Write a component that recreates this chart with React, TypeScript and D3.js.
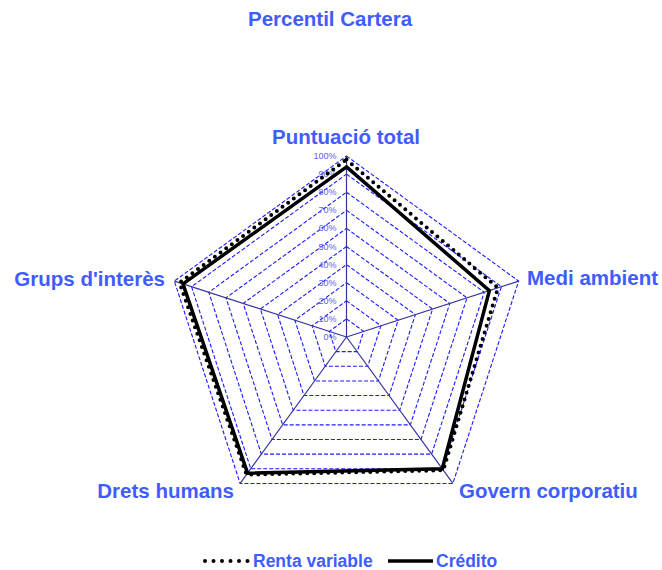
import React, { useRef, useEffect } from "react";
import * as d3 from "d3";

const axes = ["Puntuació total", "Medi ambient", "Govern corporatiu", "Drets humans", "Grups d'interès"];
const rentaVariable = [98, 88, 91, 94, 97];
const credito = [94, 83, 90, 93, 95];
const ringTicks = [0, 10, 20, 30, 40, 50, 60, 70, 80, 90, 100];

const BLUE = "#3f5cff";
const FONT = "Liberation Sans, Arial, sans-serif";

const App = () => {
  const ref = useRef<SVGSVGElement>(null);

  useEffect(() => {
    const svg = d3.select(ref.current);
    svg.selectAll("*").remove();

    const cx = 346.5;
    const cy = 337;
    const r = d3.scaleLinear().domain([0, 100]).range([0, 181]);
    const angle = (i: number) => (i * 2 * Math.PI) / axes.length;
    const pt = (i: number, v: number): [number, number] => [
      cx + r(v) * Math.sin(angle(i)),
      cy - r(v) * Math.cos(angle(i)),
    ];
    const closed = d3.line().curve(d3.curveLinearClosed);

    svg
      .append("text")
      .attr("x", 330)
      .attr("y", 26)
      .attr("text-anchor", "middle")
      .attr("font-family", FONT)
      .attr("font-weight", "bold")
      .attr("font-size", 20.5)
      .attr("fill", BLUE)
      .text("Percentil Cartera");

    // rings
    svg
      .append("g")
      .selectAll("path")
      .data(ringTicks.filter((t) => t > 0))
      .join("path")
      .attr("d", (t) => closed(axes.map((_, i) => pt(i, t))))
      .attr("fill", "none")
      .attr("stroke", "#1a1aff")
      .attr("stroke-width", 1.1)
      .attr("stroke-dasharray", "4,2");

    // spokes
    svg
      .append("g")
      .selectAll("line")
      .data(axes)
      .join("line")
      .attr("x1", cx)
      .attr("y1", cy)
      .attr("x2", (_, i) => pt(i, 100)[0])
      .attr("y2", (_, i) => pt(i, 100)[1])
      .attr("stroke", "#34349c")
      .attr("stroke-width", 1.2);

    // tick labels
    svg
      .append("g")
      .selectAll("text")
      .data(ringTicks)
      .join("text")
      .attr("x", cx - 10)
      .attr("y", (t) => cy - r(t) + 3)
      .attr("text-anchor", "end")
      .attr("font-family", FONT)
      .attr("font-size", 9)
      .attr("fill", "#6060f0")
      .text((t) => `${t}%`);

    // series
    svg
      .append("path")
      .attr("d", closed(rentaVariable.map((v, i) => pt(i, v))))
      .attr("fill", "none")
      .attr("stroke", "#000")
      .attr("stroke-width", 4)
      .attr("stroke-linecap", "round")
      .attr("stroke-dasharray", "0,7");

    svg
      .append("path")
      .attr("d", closed(credito.map((v, i) => pt(i, v))))
      .attr("fill", "none")
      .attr("stroke", "#000")
      .attr("stroke-width", 3.5)
      .attr("stroke-linejoin", "miter");

    // axis labels
    const labelPos = [
      { x: 346, y: 144, anchor: "middle" },
      { x: 527, y: 285, anchor: "start" },
      { x: 459, y: 498, anchor: "start" },
      { x: 234, y: 498, anchor: "end" },
      { x: 165, y: 286, anchor: "end" },
    ];
    svg
      .append("g")
      .selectAll("text")
      .data(axes)
      .join("text")
      .attr("x", (_, i) => labelPos[i].x)
      .attr("y", (_, i) => labelPos[i].y)
      .attr("text-anchor", (_, i) => labelPos[i].anchor)
      .attr("font-family", FONT)
      .attr("font-weight", "bold")
      .attr("font-size", 20.5)
      .attr("fill", BLUE)
      .text((d) => d);

    // legend
    const legend = svg.append("g").attr("font-family", FONT);
    legend
      .append("line")
      .attr("x1", 205)
      .attr("x2", 248)
      .attr("y1", 561)
      .attr("y2", 561)
      .attr("stroke", "#000")
      .attr("stroke-width", 4)
      .attr("stroke-linecap", "round")
      .attr("stroke-dasharray", "0,8.5");
    legend
      .append("text")
      .attr("x", 253)
      .attr("y", 567)
      .attr("font-weight", "bold")
      .attr("font-size", 17.5)
      .attr("fill", BLUE)
      .text("Renta variable");
    legend
      .append("line")
      .attr("x1", 388)
      .attr("x2", 433)
      .attr("y1", 561)
      .attr("y2", 561)
      .attr("stroke", "#000")
      .attr("stroke-width", 3.5);
    legend
      .append("text")
      .attr("x", 436)
      .attr("y", 567)
      .attr("font-weight", "bold")
      .attr("font-size", 17.5)
      .attr("fill", BLUE)
      .text("Crédito");
  }, []);

  return <svg ref={ref} width={662} height={570} style={{ position: "absolute", left: 0, top: 0 }} />;
};

export default App;
